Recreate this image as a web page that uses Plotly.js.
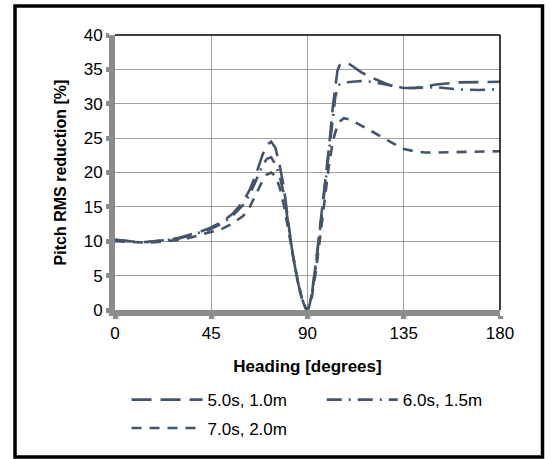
<!DOCTYPE html>
<html>
<head>
<meta charset="utf-8">
<script src="https://cdn.plot.ly/plotly-3.0.1.min.js"></script>
<style>html,body{margin:0;padding:0;background:#fff;}#chart{width:551px;height:459px;}</style>
</head>
<body>
<div id="chart"></div>
<script>
const heading = [0,5,10,15,20,25,30,35,40,45,50,55,60,63,66,69,71,73,75,77,79,81,83,85,87,89,90,91,92,94,96,98,100,102,103,104,105,107,110,115,120,125,130,135,140,145,150,160,170,180];
const s5_10 = [10.2,10.0,9.9,9.9,10.0,10.2,10.5,10.9,11.4,12.0,12.8,14.0,15.8,17.5,19.8,22.6,24.0,24.5,23.6,21.0,17.8,12.8,8.3,4.8,2.0,0.3,0,0.8,2.3,7.0,12.2,17.6,23.5,30.0,32.5,34.8,35.6,36.0,35.7,34.6,33.8,33.1,32.5,32.3,32.3,32.5,32.8,33.1,33.1,33.2];
const s6_15 = [10.2,10.0,9.9,9.9,10.0,10.2,10.4,10.8,11.3,11.8,12.6,13.7,15.3,16.8,18.8,21.0,22.0,22.2,21.2,19.5,16.8,12.5,8.3,4.8,2.0,0.3,0,0.8,2.3,6.7,12.2,17.6,23.5,29.0,31.0,32.2,32.8,33.1,33.2,33.3,33.2,32.9,32.5,32.3,32.3,32.4,32.4,32.1,32.0,32.1];
const s7_20 = [10.0,9.9,9.8,9.8,9.9,10.0,10.2,10.5,10.9,11.3,11.8,12.6,13.7,15.0,16.8,18.8,19.7,20.0,19.5,17.8,15.2,12.0,8.3,5.0,2.2,0.4,0,0.6,1.8,5.8,10.8,16.0,21.0,24.8,26.0,26.8,27.4,27.9,27.7,26.9,26.0,25.1,24.2,23.4,23.1,22.9,22.9,23.0,23.0,23.1];
const seriesNames = ['5.0s, 1.0m','6.0s, 1.5m','7.0s, 2.0m'];
const xTicks = [0,45,90,135,180];
const yTicks = [0,5,10,15,20,25,30,35,40];

const lineColor = '#44546A';
const font = 'Liberation Sans, Arial, sans-serif';
const fs = 17;
const traces = [
  {x: heading, y: s5_10, name: seriesNames[0], mode: 'lines', line: {color: lineColor, width: 2.6, dash: '20px,9px'}, legend: 'legend'},
  {x: heading, y: s6_15, name: seriesNames[1], mode: 'lines', line: {color: lineColor, width: 2.6, dash: '15px,7px,2px,7px'}, legend: 'legend3'},
  {x: heading, y: s7_20, name: seriesNames[2], mode: 'lines', line: {color: lineColor, width: 2.6, dash: '10px,8px'}, legend: 'legend2'}
];
const legendBase = {orientation: 'h', xanchor: 'left', yanchor: 'top', itemwidth: 71,
  font: {family: font, size: fs, color: '#000'}, bgcolor: 'rgba(0,0,0,0)', borderwidth: 0};
const layout = {
  width: 551, height: 459,
  margin: {l: 115, r: 51, t: 35, b: 149},
  paper_bgcolor: '#fff', plot_bgcolor: '#fff',
  font: {family: font, size: fs, color: '#000'},
  showlegend: true,
  xaxis: {
    range: [0, 180], tickvals: xTicks, ticktext: xTicks.map(String),
    showgrid: true, gridcolor: '#a0a0a0', gridwidth: 1, zeroline: false,
    showline: true, linecolor: '#8c8c8c', linewidth: 6,
    ticks: 'outside', ticklen: 3, tickwidth: 5, tickcolor: '#8c8c8c',
    tickfont: {family: font, size: fs, color: '#000'},
    title: {text: '<b>Heading [degrees]</b>', font: {family: font, size: fs, color: '#000'}, standoff: 20}
  },
  yaxis: {
    range: [0, 40], tickvals: yTicks, ticktext: yTicks.map(String),
    showgrid: true, gridcolor: '#a0a0a0', gridwidth: 1, zeroline: false,
    showline: true, linecolor: '#8c8c8c', linewidth: 6,
    ticks: 'outside', ticklen: 3, tickwidth: 5, tickcolor: '#8c8c8c',
    tickfont: {family: font, size: fs, color: '#000'},
    title: {text: '<b>Pitch RMS reduction [%]</b>', font: {family: font, size: 16, color: '#000'}, standoff: 15}
  },
  legend: Object.assign({}, legendBase, {x: 0.03, y: -0.262}),
  legend3: Object.assign({}, legendBase, {x: 0.537, y: -0.262}),
  legend2: Object.assign({}, legendBase, {x: 0.03, y: -0.365}),
  shapes: [
    {type: 'line', xref: 'paper', yref: 'paper', x0: 0, x1: 1, y0: 1, y1: 1, line: {color: '#000', width: 1.5}},
    {type: 'line', xref: 'paper', yref: 'paper', x0: 1, x1: 1, y0: 0, y1: 1, line: {color: '#000', width: 1.5}},
    {type: 'rect', xref: 'paper', yref: 'paper', x0: -0.2597, x1: 1.1104, y0: -0.5345, y1: 1.1055, line: {color: '#000', width: 3.5}, fillcolor: 'rgba(0,0,0,0)'}
  ]
};
Plotly.newPlot('chart', traces, layout, {displayModeBar: false, staticPlot: true});
</script>
</body>
</html>
